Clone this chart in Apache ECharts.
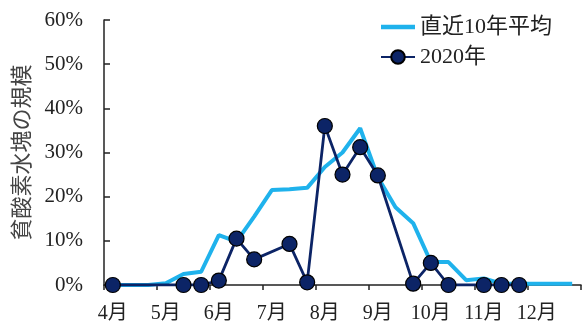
<!DOCTYPE html>
<html>
<head>
<meta charset="utf-8">
<script src="https://cdn.jsdelivr.net/npm/echarts@6/dist/echarts.min.js"></script>
<style>html,body{margin:0;padding:0;background:#fff}#c{width:582px;height:327px}</style>
</head>
<body>
<div id="c"></div>
<script>
// months on the x axis; each month split into 3 ten-day periods (上旬・中旬・下旬)
var months = ['4月','5月','6月','7月','8月','9月','10月','11月','12月'];
var periods = ['上旬','中旬','下旬'];
var yTicks = [0, 10, 20, 30, 40, 50, 60];
// 直近10年平均 (%), one value per ten-day period, Apr上旬 .. Dec下旬
var avg10 = [0, 0, 0, 0.4, 2.5, 3, 11.3, 9.8, 15.5, 21.5, 21.7, 22, 26.7, 30, 35.5, 24.4, 17.6, 14, 5.2, 5.2, 1.1, 1.5, 0.3, 0.3, 0.3, 0.3, 0.3];
// 2020年 (%), null = not observed
var y2020 = [0, null, null, null, 0, 0, 1, 10.5, 5.8, null, 9.3, 0.6, 36, 25, 31.2, 24.8, null, 0.3, 5, 0, null, 0, 0, 0, null, null, null];

var categories = [];
months.forEach(function (m) { periods.forEach(function (p) { categories.push(m + p); }); });

var serif = '"Liberation Serif", "Noto Sans CJK JP", serif';
var chart = echarts.init(document.getElementById('c'));
chart.setOption({
  animation: false,
  backgroundColor: '#fff',
  grid: { left: 104, right: 1, top: 20, bottom: 42, containLabel: false },
  legend: {
    orient: 'vertical', left: 375, top: 11, itemWidth: 34, itemHeight: 17, itemGap: 8,
    textStyle: { fontFamily: serif, fontSize: 22, color: '#222' },
    data: [
      { name: '直近10年平均', icon: 'path://M0,0 L34,0 L34,4.5 L0,4.5 Z' },
      { name: '2020年' }
    ]
  },
  xAxis: {
    type: 'category', data: categories, boundaryGap: true,
    axisLine: { lineStyle: { color: '#222', width: 1.5 } },
    axisTick: { show: true, interval: 2, length: 5, lineStyle: { color: '#222', width: 1.5 } },
    axisLabel: {
      interval: 2, margin: 19, fontFamily: serif, fontSize: 20, color: '#222',
      formatter: function (v) { return v.replace(/(上旬|中旬|下旬)$/, ''); }
    }
  },
  yAxis: {
    type: 'value', min: yTicks[0], max: yTicks[yTicks.length - 1], interval: 10,
    name: '貧酸素水塊の規模', nameLocation: 'middle', nameGap: 72, nameRotate: 90,
    nameTextStyle: { fontFamily: '"Noto Sans CJK JP", sans-serif', fontSize: 22, color: '#444' },
    splitLine: { show: false },
    axisLine: { show: true, lineStyle: { color: '#222', width: 1.5 } },
    axisTick: { show: true, inside: true, length: 6, lineStyle: { color: '#222', width: 1.5 } },
    axisLabel: { margin: 21, fontFamily: serif, fontSize: 21, color: '#222', formatter: '{value}%' }
  },
  series: [
    {
      name: '直近10年平均', type: 'line', data: avg10, symbol: 'none',
      lineStyle: { color: '#1fb2ec', width: 4 }, itemStyle: { color: '#1fb2ec' }, z: 2
    },
    {
      name: '2020年', type: 'line', data: y2020, connectNulls: true,
      symbol: 'circle', symbolSize: 15, showAllSymbol: true,
      lineStyle: { color: '#0c2466', width: 2.8 },
      itemStyle: { color: '#0c2466', borderColor: '#000', borderWidth: 1.2 }, z: 3
    }
  ]
});
</script>
</body>
</html>
